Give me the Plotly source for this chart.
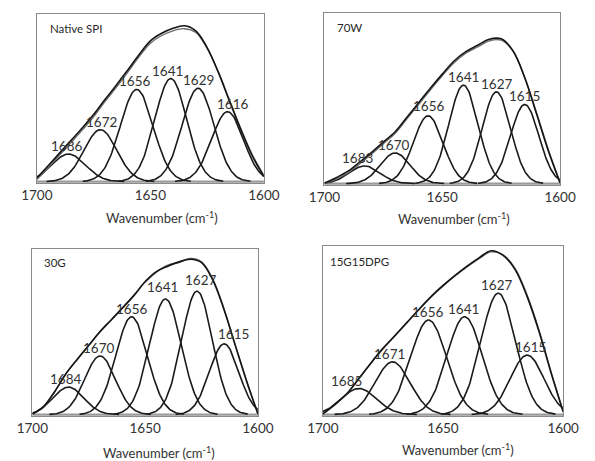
import numpy as np
import plotly.graph_objects as go

# ---------------- data ----------------
panel_names = ["Native SPI", "70W", "30G", "15G15DPG"]

# envelope sampling positions (cm-1)
env_wn = [1700, 1695, 1690, 1685, 1680, 1675, 1670, 1665, 1660, 1655, 1650,
          1645, 1640, 1635, 1630, 1625, 1620, 1615, 1610, 1605, 1600]

# fitted envelope and measured spectrum (normalised absorbance)
fit_native = [0.022, 0.095, 0.17, 0.245, 0.32, 0.40, 0.49, 0.575, 0.665, 0.757, 0.84,
              0.885, 0.915, 0.93, 0.90, 0.80, 0.65, 0.475, 0.305, 0.15, 0.03]
meas_native = [0.012, 0.083, 0.158, 0.232, 0.307, 0.387, 0.477, 0.562, 0.652, 0.744, 0.826,
               0.872, 0.90, 0.912, 0.89, 0.795, 0.652, 0.482, 0.312, 0.158, 0.038]

fit_70w = [0.004, 0.035, 0.073, 0.127, 0.184, 0.244, 0.305, 0.39, 0.475, 0.561, 0.643,
           0.72, 0.775, 0.812, 0.848, 0.85, 0.78, 0.622, 0.41, 0.193, 0.004]
meas_70w = [0.0, 0.027, 0.064, 0.117, 0.174, 0.234, 0.295, 0.38, 0.465, 0.551, 0.633,
            0.71, 0.765, 0.802, 0.838, 0.842, 0.778, 0.625, 0.418, 0.2, 0.008]

fit_30g = [0.004, 0.05, 0.142, 0.25, 0.337, 0.42, 0.503, 0.574, 0.646, 0.72, 0.805,
           0.865, 0.898, 0.924, 0.94, 0.92, 0.814, 0.633, 0.416, 0.201, 0.004]
meas_30g = [0.004, 0.048, 0.14, 0.248, 0.335, 0.418, 0.50, 0.572, 0.648, 0.722, 0.80,
            0.862, 0.905, 0.92, 0.945, 0.925, 0.82, 0.64, 0.42, 0.205, 0.006]

fit_15g = [0.005, 0.06, 0.125, 0.215, 0.307, 0.393, 0.469, 0.547, 0.625, 0.70, 0.766,
           0.826, 0.881, 0.93, 0.972, 0.945, 0.86, 0.70, 0.49, 0.245, 0.016]
meas_15g = [0.004, 0.058, 0.122, 0.212, 0.304, 0.39, 0.466, 0.544, 0.622, 0.697, 0.762,
            0.822, 0.876, 0.925, 0.965, 0.948, 0.868, 0.71, 0.50, 0.252, 0.02]

# Gaussian band components: centre (cm-1), height, width (sigma, cm-1)
centers_native = [1686, 1672, 1656, 1641, 1629, 1616]
heights_native = [0.165, 0.31, 0.55, 0.615, 0.557, 0.417]
sigmas_native = [7.4, 7.2, 7.2, 7.0, 7.0, 7.0]

centers_70w = [1683, 1670, 1656, 1641, 1627, 1615]
heights_70w = [0.104, 0.18, 0.398, 0.578, 0.539, 0.465]
sigmas_70w = [6.5, 6.3, 6.3, 6.2, 6.0, 6.0]

centers_30g = [1684, 1670, 1656, 1641, 1627, 1615]
heights_30g = [0.167, 0.355, 0.592, 0.70, 0.747, 0.428]
sigmas_30g = [6.8, 6.8, 7.0, 7.0, 6.8, 6.5]

centers_15g = [1685, 1671, 1656, 1641, 1627, 1615]
heights_15g = [0.155, 0.313, 0.561, 0.581, 0.72, 0.353]
sigmas_15g = [7.3, 7.3, 7.5, 7.3, 7.2, 7.0]

x_ticks = [1700, 1650, 1600]

# ---------------- layout / styling (positions in pixels) ----------------
W, H = 595, 461
FONT = "Lato"
TXT = "#333333"
BOX = "#8a8a8a"

# plot boxes: left, right, top, bottom (px)
boxes = [(22, 262, 14, 183), (326, 575, 13.3, 185),
         (17.3, 255.7, 249.3, 416), (324.3, 578.3, 246, 416)]
# axis-title centres (px)
title_pos = [(154, 217), (463, 218), (151, 452), (467, 449)]
# sample-name label top-left offsets inside box (px)
name_off = [(12, 6), (11, 6), (10, 5), (5, 7)]
# peak-label pixel shifts (dx, dy)
label_shift = [
    [(-2, 0), (1, 0), (-2, 0), (-3, 0), (0, 0), (5, 0)],
    [(-7, 0), (-2, 0), (0, 2), (0, 0), (0, 0), (0, 0)],
    [(-3, 0), (-2, 0), (0, 0), (-3, 4), (3, 3), (9, 2)],
    [(-12, 0), (-3, 0), (-1, 0), (-1, 0), (-2, 0), (3, 0)],
]

panels = [
    (centers_native, heights_native, sigmas_native, fit_native, meas_native),
    (centers_70w, heights_70w, sigmas_70w, fit_70w, meas_70w),
    (centers_30g, heights_30g, sigmas_30g, fit_30g, meas_30g),
    (centers_15g, heights_15g, sigmas_15g, fit_15g, meas_15g),
]

fig = go.Figure()
annotations = []
shapes = []
layout_axes = {}

for i, (cs, hs, ss, fit, meas) in enumerate(panels):
    sfx = "" if i == 0 else str(i + 1)
    xa, ya = "x" + sfx, "y" + sfx
    l, r, t, b = boxes[i]

    # component bands
    for c, h, s in zip(cs, hs, ss):
        xs = np.linspace(max(1600, c - 3.3 * s), min(1700, c + 3.3 * s), 120)
        ys = h * np.exp(-((xs - c) ** 2) / (2 * s * s))
        fig.add_trace(go.Scatter(x=xs, y=ys, mode="lines",
                                 line=dict(color="#1a1a1a", width=1.6),
                                 xaxis=xa, yaxis=ya, hoverinfo="skip", showlegend=False))
    # measured spectrum
    fig.add_trace(go.Scatter(x=env_wn, y=meas, mode="lines",
                             line=dict(color="#6a6a6a", width=1.3, shape="spline", smoothing=1.0),
                             xaxis=xa, yaxis=ya, hoverinfo="skip", showlegend=False))
    # fitted envelope
    fig.add_trace(go.Scatter(x=env_wn, y=fit, mode="lines",
                             line=dict(color="#141414", width=1.6, shape="spline", smoothing=1.0),
                             xaxis=xa, yaxis=ya, hoverinfo="skip", showlegend=False))

    layout_axes["xaxis" + sfx] = dict(
        domain=[l / W, r / W], anchor=ya, range=[1700, 1600],
        tickmode="array", tickvals=x_ticks, ticktext=[str(v) for v in x_ticks],
        ticks="", showgrid=False, zeroline=False,
        showline=True, mirror=True, linecolor=BOX, linewidth=1.2,
        tickfont=dict(family=FONT, size=13.5, color=TXT), fixedrange=True)
    layout_axes["yaxis" + sfx] = dict(
        domain=[1 - b / H, 1 - t / H], anchor=xa, range=[-0.008, 1.0],
        showticklabels=False, ticks="", showgrid=False, zeroline=False,
        showline=True, mirror=True, linecolor=BOX, linewidth=1.2, fixedrange=True)

    # thick grey baseline
    shapes.append(dict(type="line", xref=xa + " domain", x0=0, x1=1, yref=ya, y0=0, y1=0,
                       line=dict(color="#9a9a9a", width=2.2), layer="below"))

    # peak labels
    for (c, h), (dx, dy) in zip(zip(cs, hs), label_shift[i]):
        annotations.append(dict(x=c, y=h, xref=xa, yref=ya, text=str(c), showarrow=False,
                                xanchor="center", yanchor="bottom", xshift=dx, yshift=dy - 2,
                                font=dict(family=FONT, size=13.5, color=TXT)))
    # sample name
    ox, oy = name_off[i]
    annotations.append(dict(x=(l + ox) / W, y=1 - (t + oy) / H, xref="paper", yref="paper",
                            text=panel_names[i], showarrow=False, xanchor="left", yanchor="top",
                            font=dict(family=FONT, size=11.5, color="#2a2a2a")))
    # axis title
    tx, ty = title_pos[i]
    annotations.append(dict(x=tx / W, y=1 - ty / H, xref="paper", yref="paper",
                            text="Wavenumber (cm<sup>-1</sup>)", showarrow=False,
                            xanchor="center", yanchor="middle",
                            font=dict(family=FONT, size=13, color=TXT)))

fig.update_layout(
    width=W, height=H, autosize=False, margin=dict(l=0, r=0, t=0, b=0),
    paper_bgcolor="white", plot_bgcolor="white",
    showlegend=False, annotations=annotations, shapes=shapes, **layout_axes)

fig.write_html(
    "out.html",
    config={"displayModeBar": False, "responsive": False},
    default_width="595px", default_height="461px",
    post_script="document.body.style.margin='0';document.body.style.overflow='hidden';",
)
